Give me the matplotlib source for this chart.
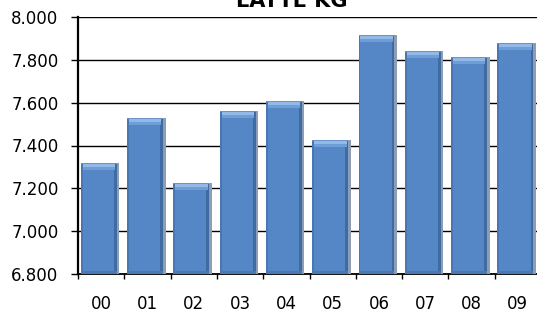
import matplotlib
matplotlib.use("Agg")
import matplotlib.pyplot as plt
import numpy as np

# data
years = ["00", "01", "02", "03", "04", "05", "06", "07", "08", "09"]
latte_kg = [7.32, 7.53, 7.225, 7.56, 7.61, 7.425, 7.915, 7.84, 7.815, 7.88]
y_ticks = [6.8, 7.0, 7.2, 7.4, 7.6, 7.8, 8.0]
y_labels = ["6.800", "7.000", "7.200", "7.400", "7.600", "7.800", "8.000"]
title = "LATTE KG"

plt.rcParams["font.family"] = ["DejaVu Sans"]

fig = plt.figure(figsize=(5.37, 3.15), dpi=100)
ax = fig.add_axes([78 / 537, 41 / 315, 463 / 537, 257 / 315])

x = np.arange(len(years))
vals = np.array(latte_kg)
base = y_ticks[0]
px = (y_ticks[-1] - y_ticks[0]) / 257.0  # data units per pixel

# bar drawn in layers to fake the 3d/gradient look
# grey shadow on the right
ax.bar(x + (-0.44 + 0.39) / 2, vals - base, width=0.83, bottom=base,
       color="#8D9DB4", linewidth=0, zorder=3)
# body
ax.bar(x + (-0.44 + 0.335) / 2, vals - base, width=0.775, bottom=base,
       color="#5587C6", linewidth=0, zorder=4)
# left and right darker strips
ax.bar(x - 0.42, vals - base, width=0.04, bottom=base,
       color="#4977B2", linewidth=0, zorder=5)
ax.bar(x + 0.305, vals - base, width=0.06, bottom=base,
       color="#3F6BA2", linewidth=0, zorder=5)
# bottom darker band
ax.bar(x + (-0.44 + 0.335) / 2, 3 * px, width=0.775, bottom=base,
       color="#4A78B2", linewidth=0, zorder=5)
# top highlight
ax.bar(x + (-0.40 + 0.30) / 2, 6 * px, width=0.70, bottom=vals - 7 * px,
       color="#6F9DD8", linewidth=0, zorder=6)
ax.bar(x + (-0.40 + 0.30) / 2, 3 * px, width=0.70, bottom=vals - 4 * px,
       color="#93B9E8", linewidth=0, zorder=7)
ax.bar(x + (-0.44 + 0.335) / 2, 1 * px, width=0.775, bottom=vals - 1 * px,
       color="#6C93C8", linewidth=0, zorder=7)

ax.set_xlim(-0.5, len(years) - 0.5)
ax.set_ylim(y_ticks[0], y_ticks[-1])

ax.set_yticks(y_ticks)
ax.set_yticklabels(y_labels)
ax.set_xticks(x)
ax.set_xticklabels(years)
ax.set_xticks(np.arange(len(years) + 1) - 0.5, minor=True)

# sizes below are in points (1 px = 0.72 pt at 100 dpi)
ax.tick_params(axis="y", length=5, width=1, pad=9, labelsize=12, colors="black")
ax.tick_params(axis="x", which="major", length=0, pad=15, labelsize=12)
ax.tick_params(axis="x", which="minor", length=3.6, width=1, direction="out")

ax.grid(axis="y", color="black", linewidth=1, zorder=1)
ax.set_axisbelow(True)
for s in ["top", "right"]:
    ax.spines[s].set_visible(False)
ax.spines["left"].set_linewidth(1.6)
ax.spines["bottom"].set_linewidth(1.3)
ax.spines["left"].set_zorder(10)

fig.text(292 / 537, 1 - 7 / 315, title, ha="center", va="baseline",
         fontsize=15, fontweight="bold")

fig.savefig("out.png", dpi=100)
